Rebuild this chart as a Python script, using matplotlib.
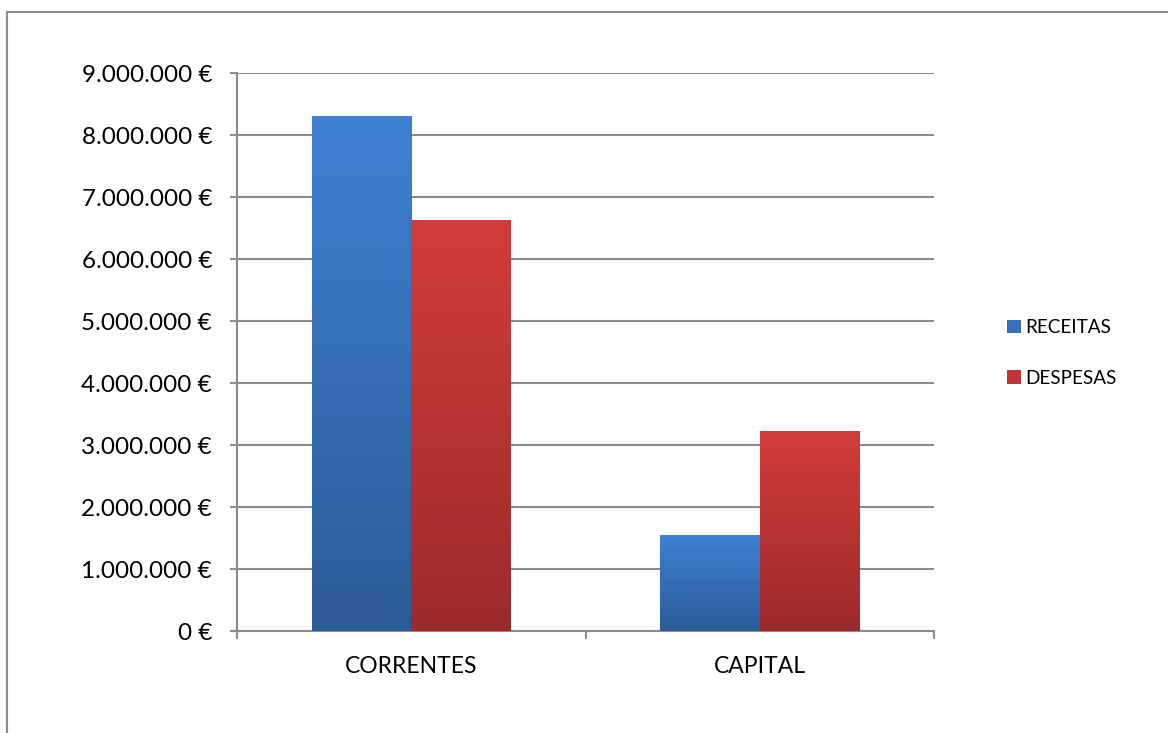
import matplotlib
matplotlib.use("Agg")
import matplotlib.pyplot as plt
import numpy as np
from matplotlib.colors import LinearSegmentedColormap
from matplotlib.lines import Line2D
from matplotlib.patches import Patch

plt.rcParams['font.family'] = ['Lato', 'DejaVu Sans']

categories = ["CORRENTES", "CAPITAL"]
series_names = ["RECEITAS", "DESPESAS"]
receitas = [8300000, 1550000]
despesas = [6630000, 3225000]
yticks = [0, 1000000, 2000000, 3000000, 4000000, 5000000, 6000000, 7000000, 8000000, 9000000]

W, H = 1168, 733
fig = plt.figure(figsize=(W / 100, H / 100), dpi=100)
ax = fig.add_axes([237 / W, 1 - 631 / H, (934 - 237) / W, (631 - 73) / H])

grad_colors = {
    "RECEITAS": ("#3E80D2", "#2C5C98"),
    "DESPESAS": ("#D23C3B", "#9C2A2B"),
}
legend_colors = {"RECEITAS": "#3570BB", "DESPESAS": "#BF3535"}

x = np.arange(len(categories))
bw = 0.286
gradient = np.linspace(0, 1, 256).reshape(-1, 1)
for vals, name, off in [(receitas, "RECEITAS", -bw / 2), (despesas, "DESPESAS", bw / 2)]:
    bars = ax.bar(x + off, vals, bw, color=legend_colors[name], zorder=3, linewidth=0)
    top_c, bot_c = grad_colors[name]
    cmap = LinearSegmentedColormap.from_list(name, [top_c, bot_c])
    for b in bars:
        x0, y0 = b.get_x(), b.get_y()
        w, h = b.get_width(), b.get_height()
        im = ax.imshow(gradient, extent=[x0, x0 + w, y0, y0 + h], origin='upper',
                       aspect='auto', cmap=cmap, zorder=4)
        im.set_clip_path(b)

ax.set_xlim(-0.5, 1.5)
ax.set_ylim(0, 9000000)
ax.set_yticks(yticks)
ax.set_yticklabels([f"{v:,}".replace(",", ".") + " €" for v in yticks])
ax.yaxis.grid(True, color="#8C8C8C", linewidth=1.5, zorder=0)
ax.set_axisbelow(True)

ax.set_xticks(x)
ax.set_xticklabels(categories)
ax.set_xticks([-0.5, 0.5, 1.5], minor=True)
ax.tick_params(axis='x', which='major', length=0, pad=18, labelsize=16.5, colors='black')
ax.tick_params(axis='x', which='minor', length=6, width=1.5, color="#8C8C8C", direction='out')
ax.tick_params(axis='y', which='major', length=5, width=1.5, color="#8C8C8C", direction='out',
               pad=13, labelsize=17.5)

for s in ['top', 'right']:
    ax.spines[s].set_visible(False)
for s in ['left', 'bottom']:
    ax.spines[s].set_color("#8C8C8C")
    ax.spines[s].set_linewidth(1.5)

handles = [Patch(facecolor=legend_colors[n], edgecolor='none') for n in series_names]
fig.legend(handles, series_names, loc='center left', bbox_to_anchor=(1007 / W, 1 - 353 / H),
           frameon=False, fontsize=13.6, handlelength=0.72, handleheight=0.7,
           handletextpad=0.27, labelspacing=1.75, borderpad=0, borderaxespad=0)

# chart area border (partially visible)
fig.add_artist(Line2D([7 / W, 7 / W], [0, 1 - 12 / H], transform=fig.transFigure,
                      color="#8C8C8C", linewidth=1.5))
fig.add_artist(Line2D([7 / W, 1], [1 - 12 / H, 1 - 12 / H], transform=fig.transFigure,
                      color="#8C8C8C", linewidth=1.5))

fig.savefig("out.png", dpi=100)
